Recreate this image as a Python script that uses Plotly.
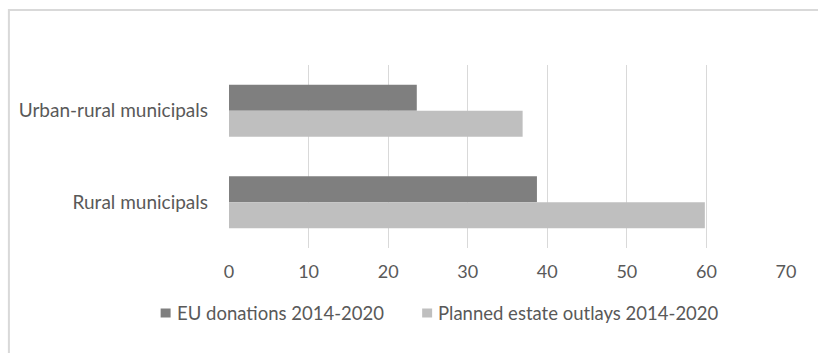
import plotly.graph_objects as go

# Municipality groups and amounts for 2014-2020
categories = ["Urban-rural municipals", "Rural municipals"]
eu_donations = [23.6, 38.7]
planned_outlays = [36.9, 59.8]
x_ticks = [0, 10, 20, 30, 40, 50, 60, 70]

series_names = ["EU donations 2014-2020", "Planned estate outlays 2014-2020"]
series_colors = ["#7f7f7f", "#bfbfbf"]

W, H = 818, 353
ML, MR, MT, MB = 228.5, 31.5, 65, 105
pw = W - ML - MR
ph = H - MT - MB


def px_x(p):
    return (p - ML) / pw


def px_y(p):
    return (H - MB - p) / ph


text_color = "#595959"
font_family = "Lato, Open Sans, sans-serif"

fig = go.Figure()
for name, values, color in zip(series_names, [eu_donations, planned_outlays], series_colors):
    fig.add_trace(go.Bar(
        y=categories, x=values, orientation="h",
        name=name, marker=dict(color=color, line_width=0),
    ))

# Legend row below the axis: small square swatch followed by the series name
legend_swatch_x = [160, 422]
legend_text_x = [174, 436]
legend_y = 313
shapes = [dict(
    type="rect", xref="paper", yref="paper",
    x0=px_x(8), x1=px_x(840), y0=px_y(370), y1=px_y(10),
    line=dict(color="#d9d9d9", width=2), layer="below",
)]
annotations = []
for name, color, sx, tx in zip(series_names, series_colors, legend_swatch_x, legend_text_x):
    shapes.append(dict(
        type="rect", xref="paper", yref="paper",
        x0=px_x(sx), x1=px_x(sx + 10),
        y0=px_y(legend_y + 4.5), y1=px_y(legend_y - 4.5),
        fillcolor=color, line_width=0,
    ))
    annotations.append(dict(
        xref="paper", yref="paper", x=px_x(tx), y=px_y(legend_y),
        xanchor="left", yanchor="middle", text=name, showarrow=False,
        font=dict(family=font_family, size=18.5, color=text_color),
    ))

fig.update_layout(
    width=W, height=H,
    margin=dict(l=ML, r=MR, t=MT, b=MB, autoexpand=False),
    paper_bgcolor="white", plot_bgcolor="white",
    barmode="group", bargap=0.432, bargroupgap=0,
    font=dict(family=font_family, size=18, color=text_color),
    showlegend=False,
    xaxis=dict(
        range=[0, 70], tickvals=x_ticks, showgrid=True,
        gridcolor="#d9d9d9", gridwidth=1, zeroline=False,
        showline=False, ticks="", ticklabelstandoff=11,
        tickfont=dict(size=18, color=text_color), fixedrange=True,
    ),
    yaxis=dict(
        categoryorder="array", categoryarray=categories,
        autorange="reversed", showgrid=False, zeroline=False,
        showline=False, ticks="", ticklabelstandoff=20,
        tickfont=dict(size=19, color=text_color), fixedrange=True,
    ),
    shapes=shapes,
    annotations=annotations,
)

fig.write_html("out.html")
